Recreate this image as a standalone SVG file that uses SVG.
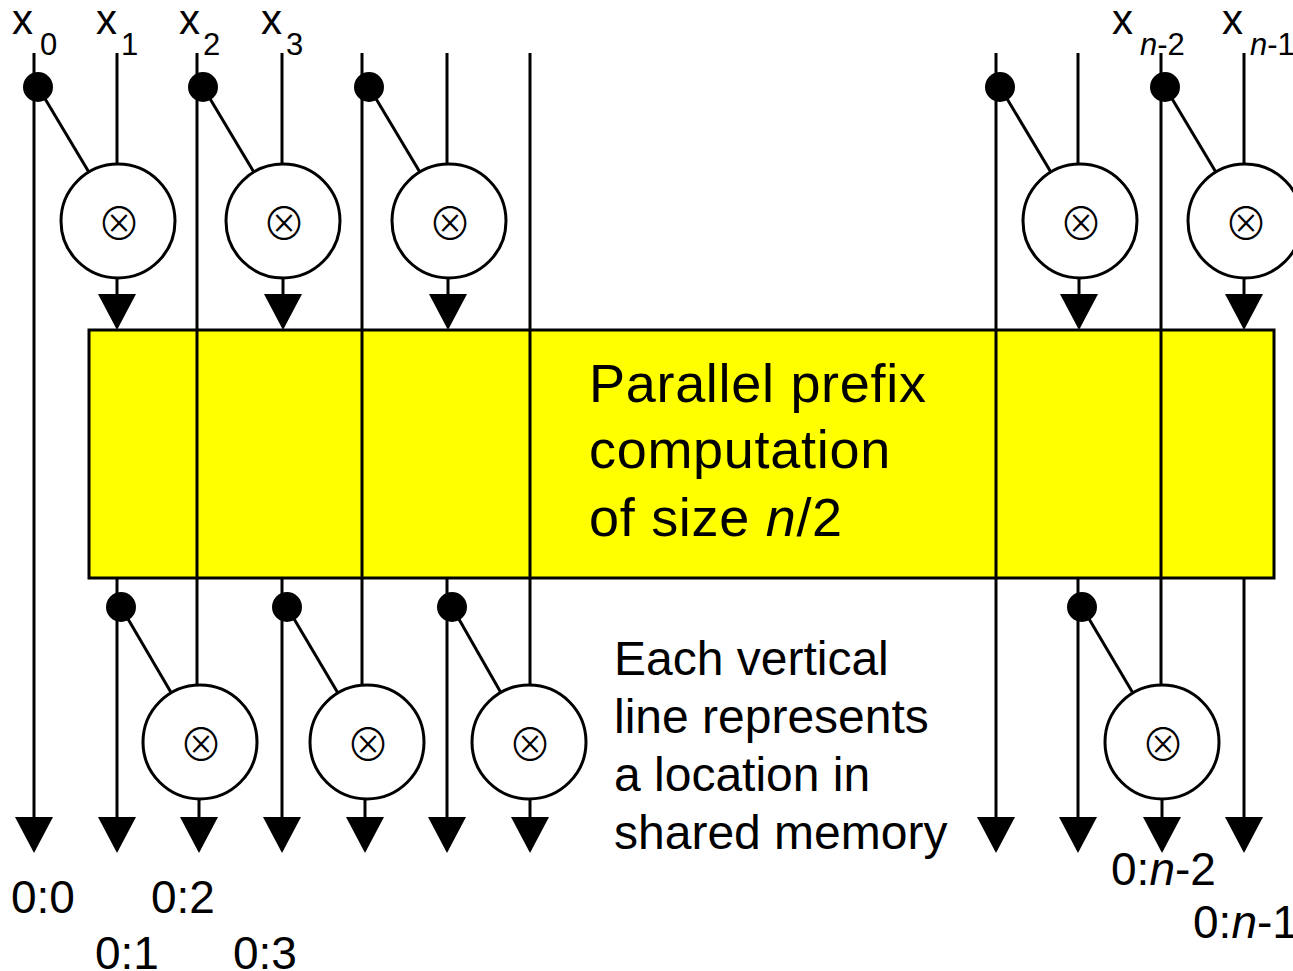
<svg xmlns="http://www.w3.org/2000/svg" width="1293" height="971" viewBox="0 0 1293 971">
<defs>
<style>
.ln{stroke:#000;stroke-width:3;fill:none}
.op{fill:#fff;stroke:#000;stroke-width:3}
.dot{fill:#000}
.t{font-family:"Liberation Sans",Arial,sans-serif;fill:#000}
.s{font-size:48px}
.b{font-size:54px;letter-spacing:0.7px}
.sub{font-size:31px}
.lab{font-size:46px}
.xl{font-size:42px}
.it{font-style:italic}
.sym{font-family:"Noto Sans CJK JP","DejaVu Sans",sans-serif;font-weight:300;font-size:44px;text-anchor:middle;fill:#000}
</style>
<marker id="arr" markerUnits="userSpaceOnUse" viewBox="0 -19 36 38" markerWidth="36" markerHeight="38" refX="33" refY="0" orient="auto">
<path d="M0,-19 L36,0 L0,19 Z" fill="#000"/>
</marker>
</defs>
<rect width="1293" height="971" fill="#fff"/>

<g id="prefix-box">
<rect x="89" y="330" width="1185" height="248" fill="#ffff00" stroke="#000" stroke-width="3"/>
<text class="t b" x="589" y="402">Parallel prefix</text>
<text class="t b" x="589" y="468">computation</text>
<text class="t b" x="589" y="536">of size <tspan class="it">n</tspan>/2</text>
</g>

<g id="connectors">
<line class="ln" x1="34" y1="53" x2="34" y2="850" marker-end="url(#arr)"/>
<line class="ln" x1="117" y1="53" x2="117" y2="164"/>
<line class="ln" x1="117" y1="278" x2="117" y2="327" marker-end="url(#arr)"/>
<line class="ln" x1="117" y1="578" x2="117" y2="850" marker-end="url(#arr)"/>
<line class="ln" x1="197" y1="53" x2="197" y2="686"/>
<line class="ln" x1="199" y1="798" x2="199" y2="850" marker-end="url(#arr)"/>
<line class="ln" x1="282" y1="53" x2="282" y2="164"/>
<line class="ln" x1="283" y1="278" x2="283" y2="327" marker-end="url(#arr)"/>
<line class="ln" x1="282" y1="578" x2="282" y2="850" marker-end="url(#arr)"/>
<line class="ln" x1="362" y1="53" x2="362" y2="686"/>
<line class="ln" x1="365" y1="798" x2="365" y2="850" marker-end="url(#arr)"/>
<line class="ln" x1="447" y1="53" x2="447" y2="164"/>
<line class="ln" x1="448" y1="278" x2="448" y2="327" marker-end="url(#arr)"/>
<line class="ln" x1="447" y1="578" x2="447" y2="850" marker-end="url(#arr)"/>
<line class="ln" x1="530" y1="53" x2="530" y2="686"/>
<line class="ln" x1="530" y1="798" x2="530" y2="850" marker-end="url(#arr)"/>
<line class="ln" x1="996" y1="53" x2="996" y2="850" marker-end="url(#arr)"/>
<line class="ln" x1="1078" y1="53" x2="1078" y2="164"/>
<line class="ln" x1="1079" y1="278" x2="1079" y2="327" marker-end="url(#arr)"/>
<line class="ln" x1="1078" y1="578" x2="1078" y2="850" marker-end="url(#arr)"/>
<line class="ln" x1="1161" y1="53" x2="1161" y2="686"/>
<line class="ln" x1="1162" y1="798" x2="1162" y2="850" marker-end="url(#arr)"/>
<line class="ln" x1="1244" y1="53" x2="1244" y2="164"/>
<line class="ln" x1="1244" y1="278" x2="1244" y2="327" marker-end="url(#arr)"/>
<line class="ln" x1="1244" y1="578" x2="1244" y2="850" marker-end="url(#arr)"/>
<line class="ln" x1="38" y1="87" x2="88.8" y2="172"/>
<line class="ln" x1="203" y1="87" x2="253.8" y2="172"/>
<line class="ln" x1="369" y1="87" x2="419.8" y2="172"/>
<line class="ln" x1="1000" y1="87" x2="1050.8" y2="172"/>
<line class="ln" x1="1165" y1="87" x2="1215.8" y2="172"/>
<line class="ln" x1="121" y1="607" x2="171.2" y2="692.8"/>
<line class="ln" x1="287" y1="607" x2="337.9" y2="693"/>
<line class="ln" x1="452" y1="607" x2="500.8" y2="692.5"/>
<line class="ln" x1="1082" y1="607" x2="1132.9" y2="693"/>
<circle class="dot" cx="38" cy="87" r="15"/>
<circle class="dot" cx="203" cy="87" r="15"/>
<circle class="dot" cx="369" cy="87" r="15"/>
<circle class="dot" cx="1000" cy="87" r="15"/>
<circle class="dot" cx="1165" cy="87" r="15"/>
<circle class="dot" cx="121" cy="607" r="15"/>
<circle class="dot" cx="287" cy="607" r="15"/>
<circle class="dot" cx="452" cy="607" r="15"/>
<circle class="dot" cx="1082" cy="607" r="15"/>
</g>

<g id="op-top-1"><circle class="op" cx="118" cy="221" r="57"/><text class="sym" x="119" y="239.5">⊗</text></g>
<g id="op-top-2"><circle class="op" cx="283" cy="221" r="57"/><text class="sym" x="284" y="239.5">⊗</text></g>
<g id="op-top-3"><circle class="op" cx="449" cy="221" r="57"/><text class="sym" x="450" y="239.5">⊗</text></g>
<g id="op-top-4"><circle class="op" cx="1080" cy="221" r="57"/><text class="sym" x="1081" y="239.5">⊗</text></g>
<g id="op-top-5"><circle class="op" cx="1245" cy="221" r="57"/><text class="sym" x="1246" y="239.5">⊗</text></g>
<g id="op-bot-1"><circle class="op" cx="200" cy="742" r="57"/><text class="sym" x="201" y="760.5">⊗</text></g>
<g id="op-bot-2"><circle class="op" cx="367" cy="742" r="57"/><text class="sym" x="368" y="760.5">⊗</text></g>
<g id="op-bot-3"><circle class="op" cx="529" cy="742" r="57"/><text class="sym" x="530" y="760.5">⊗</text></g>
<g id="op-bot-4"><circle class="op" cx="1162" cy="742" r="57"/><text class="sym" x="1163" y="760.5">⊗</text></g>

<g id="inputs">
<text class="t xl" x="12" y="34">x</text><text class="t sub" x="40" y="55">0</text>
<text class="t xl" x="96" y="34">x</text><text class="t sub" x="121" y="55">1</text>
<text class="t xl" x="179" y="34">x</text><text class="t sub" x="203" y="55">2</text>
<text class="t xl" x="261" y="34">x</text><text class="t sub" x="286" y="55">3</text>
<text class="t xl" x="1112" y="34">x</text><text class="t sub" x="1140" y="55"><tspan class="it">n</tspan>-2</text>
<text class="t xl" x="1222" y="34">x</text><text class="t sub" x="1250" y="55"><tspan class="it">n</tspan>-1</text>
</g>

<g id="outputs">
<text class="t lab" x="11" y="913">0:0</text>
<text class="t lab" x="151" y="913">0:2</text>
<text class="t lab" x="95" y="969">0:1</text>
<text class="t lab" x="233" y="969">0:3</text>
<text class="t lab" x="1111" y="885">0:<tspan class="it">n</tspan>-2</text>
<text class="t lab" x="1193" y="938">0:<tspan class="it">n</tspan>-1</text>
</g>

<g id="note">
<text class="t s" x="614" y="675">Each vertical</text>
<text class="t s" x="614" y="733">line represents</text>
<text class="t s" x="614" y="791">a location in</text>
<text class="t s" x="614" y="849">shared memory</text>
</g>
</svg>
